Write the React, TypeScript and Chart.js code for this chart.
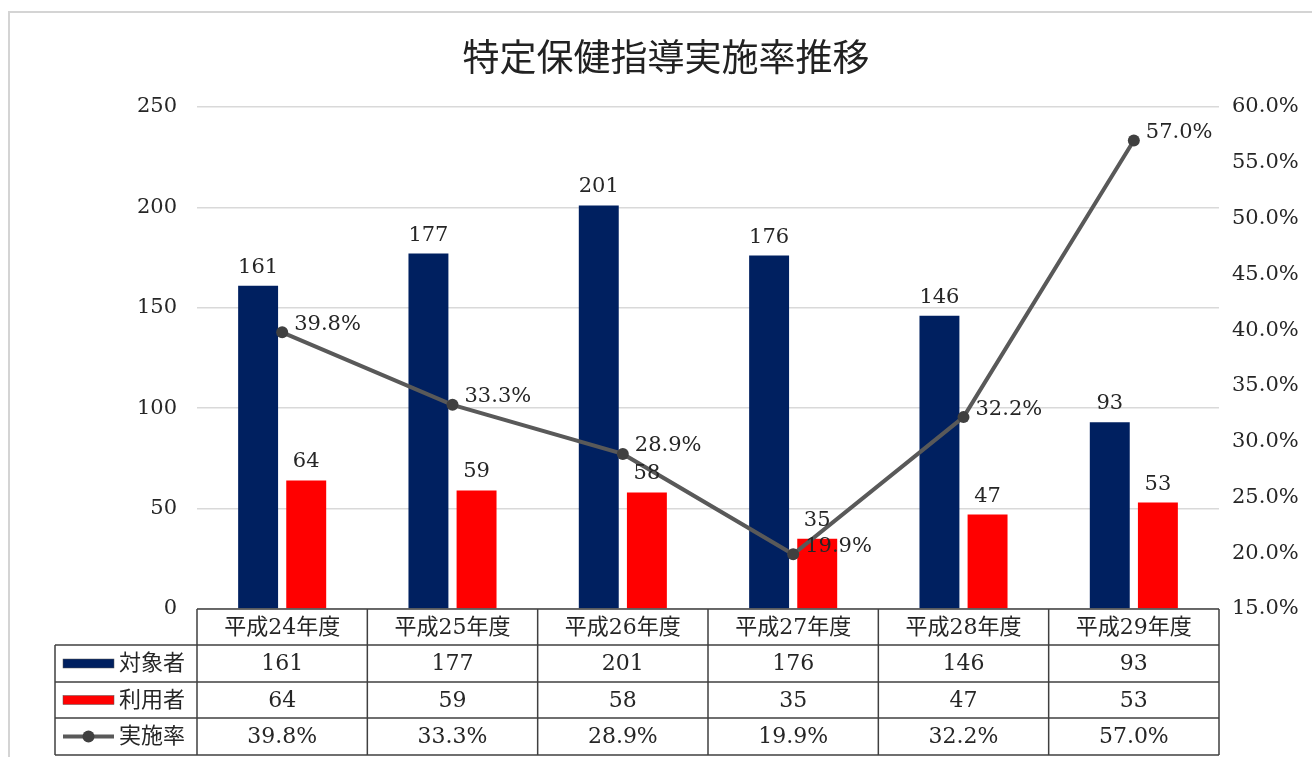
import React, { useEffect, useRef } from "react";
import { Chart, registerables } from "chart.js";

Chart.register(...registerables);

const categories = ["平成24年度", "平成25年度", "平成26年度", "平成27年度", "平成28年度", "平成29年度"];
const targetCounts = [161, 177, 201, 176, 146, 93];
const userCounts = [64, 59, 58, 35, 47, 53];
const rates = [39.8, 33.3, 28.9, 19.9, 32.2, 57.0];
const seriesNames = ["対象者", "利用者", "実施率"];
const title = "特定保健指導実施率推移";

const NAVY = "#002060";
const RED = "#FF0000";
const LINE = "#595959";
const MARKER = "#404040";
const TEXT = "#262626";
const NUMFONT = '"DejaVu Serif", "Noto Sans CJK JP", serif';
const CJKFONT = '"DejaVu Serif", "Noto Sans CJK JP", sans-serif';

const decorPlugin = {
  id: "decor",
  beforeDraw(chart: any) {
    const ctx = chart.ctx;
    ctx.save();
    ctx.fillStyle = "#ffffff";
    ctx.fillRect(0, 0, chart.width, chart.height);
    ctx.strokeStyle = "#d4d4d4";
    ctx.lineWidth = 2;
    ctx.beginPath();
    ctx.moveTo(9, chart.height);
    ctx.lineTo(9, 12);
    ctx.lineTo(chart.width, 12);
    ctx.stroke();
    ctx.restore();
  },
  afterDatasetsDraw(chart: any) {
    const ctx = chart.ctx;
    ctx.save();
    // bar labels
    ctx.fillStyle = TEXT;
    ctx.font = `21px ${NUMFONT}`;
    ctx.textAlign = "center";
    ctx.textBaseline = "bottom";
    [0, 1].forEach((di) => {
      const meta = chart.getDatasetMeta(di);
      meta.data.forEach((el: any, i: number) => {
        const v = chart.data.datasets[di].data[i];
        ctx.fillText(String(v), el.x, el.y - 8);
      });
    });
    // line labels
    const lm = chart.getDatasetMeta(2);
    ctx.textAlign = "left";
    ctx.textBaseline = "middle";
    lm.data.forEach((el: any, i: number) => {
      const v = chart.data.datasets[2].data[i] as number;
      ctx.fillText(v.toFixed(1) + "%", el.x + 12, el.y - 8);
    });
    ctx.restore();
  },
  afterDraw(chart: any) {
    const ctx = chart.ctx;
    const a = chart.chartArea;
    const n = categories.length;
    const colW = (a.right - a.left) / n;
    const rowsY = [a.bottom, a.bottom + 36, a.bottom + 73, a.bottom + 109, a.bottom + 146];
    const legendLeft = 55;
    ctx.save();
    ctx.strokeStyle = "#404040";
    ctx.lineWidth = 1.5;
    ctx.beginPath();
    ctx.moveTo(a.left, rowsY[0]);
    ctx.lineTo(a.right, rowsY[0]);
    for (let r = 1; r < rowsY.length; r++) {
      ctx.moveTo(legendLeft, rowsY[r]);
      ctx.lineTo(a.right, rowsY[r]);
    }
    ctx.moveTo(legendLeft, rowsY[1]);
    ctx.lineTo(legendLeft, rowsY[4]);
    for (let c = 0; c <= n; c++) {
      const x = a.left + c * colW;
      ctx.moveTo(x, rowsY[0]);
      ctx.lineTo(x, rowsY[4]);
    }
    ctx.stroke();

    ctx.fillStyle = TEXT;
    ctx.textAlign = "center";
    ctx.textBaseline = "middle";
    ctx.font = `22px ${CJKFONT}`;
    categories.forEach((c, i) => {
      ctx.fillText(c, a.left + (i + 0.5) * colW, (rowsY[0] + rowsY[1]) / 2 + 1);
    });
    ctx.font = `22px ${NUMFONT}`;
    const rows = [
      targetCounts.map((v) => String(v)),
      userCounts.map((v) => String(v)),
      rates.map((v) => v.toFixed(1) + "%"),
    ];
    rows.forEach((row, r) => {
      const cy = (rowsY[r + 1] + rowsY[r + 2]) / 2 + 1;
      row.forEach((t, i) => {
        ctx.fillText(t, a.left + (i + 0.5) * colW, cy);
      });
    });
    // legend keys
    const kx0 = 63;
    const kx1 = 114;
    rows.forEach((_, r) => {
      const cy = (rowsY[r + 1] + rowsY[r + 2]) / 2;
      if (r < 2) {
        ctx.fillStyle = r === 0 ? NAVY : RED;
        ctx.fillRect(kx0, cy - 4.5, kx1 - kx0, 9);
        ctx.strokeStyle = "#555";
        ctx.lineWidth = 0.5;
        ctx.strokeRect(kx0, cy - 4.5, kx1 - kx0, 9);
      } else {
        ctx.strokeStyle = LINE;
        ctx.lineWidth = 4;
        ctx.beginPath();
        ctx.moveTo(kx0, cy);
        ctx.lineTo(kx1, cy);
        ctx.stroke();
        ctx.fillStyle = MARKER;
        ctx.beginPath();
        ctx.arc((kx0 + kx1) / 2, cy, 6, 0, Math.PI * 2);
        ctx.fill();
      }
      ctx.fillStyle = TEXT;
      ctx.textAlign = "left";
      ctx.font = `22px ${CJKFONT}`;
      ctx.fillText(seriesNames[r], 119, cy + 1);
    });
    // title
    ctx.fillStyle = "#222222";
    ctx.textAlign = "center";
    ctx.textBaseline = "middle";
    ctx.font = `37px "Noto Sans CJK JP", sans-serif`;
    ctx.fillText(title, 666, 57);
    ctx.restore();
  },
};

export default function App() {
  const ref = useRef<HTMLCanvasElement | null>(null);
  useEffect(() => {
    if (!ref.current) return;
    const chart = new Chart(ref.current, {
      type: "bar",
      data: {
        labels: categories,
        datasets: [
          {
            label: seriesNames[0],
            data: targetCounts,
            backgroundColor: NAVY,
            yAxisID: "y",
            order: 2,
            categoryPercentage: 0.565,
            barPercentage: 0.83,
          } as any,
          {
            label: seriesNames[1],
            data: userCounts,
            backgroundColor: RED,
            yAxisID: "y",
            order: 2,
            categoryPercentage: 0.565,
            barPercentage: 0.83,
          } as any,
          {
            type: "line",
            label: seriesNames[2],
            data: rates,
            yAxisID: "y1",
            borderColor: LINE,
            borderWidth: 4,
            pointRadius: 6,
            pointBackgroundColor: MARKER,
            pointBorderColor: MARKER,
            pointBorderWidth: 0,
            order: 0,
          } as any,
        ],
      },
      options: {
        responsive: false,
        animation: false,
        layout: { padding: { top: 107, bottom: 148, left: 0, right: 0 } },
        plugins: {
          legend: { display: false },
          title: { display: false },
          tooltip: { enabled: false },
        },
        scales: {
          x: {
            display: false,
            offset: true,
            grid: { display: false },
          },
          y: {
            position: "left",
            min: 0,
            max: 250,
            ticks: {
              stepSize: 50,
              padding: 20,
              color: TEXT,
              font: { family: NUMFONT, size: 21 },
            },
            grid: { color: "#d9d9d9", lineWidth: 1.5, drawTicks: false },
            border: { display: false },
            afterFit: (s: any) => {
              s.width = 197;
            },
          },
          y1: {
            position: "right",
            min: 15,
            max: 60,
            ticks: {
              stepSize: 5,
              padding: 13,
              color: TEXT,
              font: { family: NUMFONT, size: 21 },
              callback: (v: any) => Number(v).toFixed(1) + "%",
            },
            grid: { display: false, drawTicks: false },
            border: { display: false },
            afterFit: (s: any) => {
              s.width = 93;
            },
          },
        },
      } as any,
      plugins: [decorPlugin],
    });
    return () => chart.destroy();
  }, []);
  return (
    <div style={{ position: "fixed", left: 0, top: 0, width: 1312, height: 757, background: "#fff" }}>
      <canvas ref={ref} width={1312} height={757} style={{ display: "block" }} />
    </div>
  );
}
